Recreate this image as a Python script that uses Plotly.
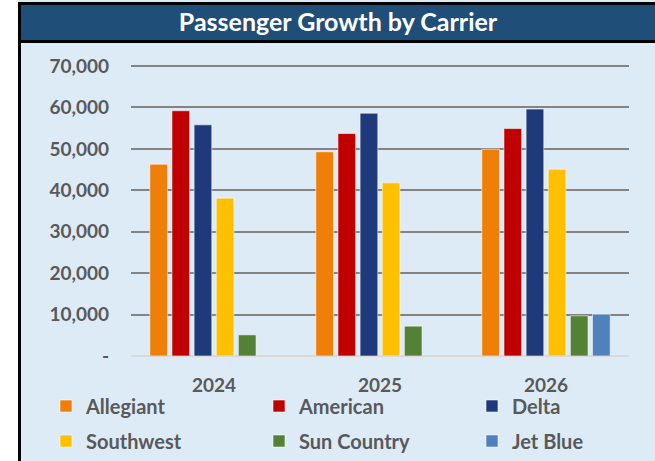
import plotly.graph_objects as go

years = ["2024", "2025", "2026"]
carriers = ["Allegiant", "American", "Delta", "Southwest", "Sun Country", "Jet Blue"]
allegiant = [46300, 49300, 49900]
american = [59200, 53700, 54900]
delta = [55800, 58600, 59600]
southwest = [38100, 41800, 45100]
sun_country = [5100, 7200, 9700]
jet_blue = [None, None, 10100]
series = [allegiant, american, delta, southwest, sun_country, jet_blue]
colors = ["#F07F09", "#C00000", "#1F3A7A", "#FFC000", "#538135", "#4F81BD"]
y_tickvals = [0, 10000, 20000, 30000, 40000, 50000, 60000, 70000]
y_ticktext = ["-", "10,000", "20,000", "30,000", "40,000", "50,000", "60,000", "70,000"]

W, H = 655, 461
L, R, T, B = 131, 629, 62, 356
PW, PH = R - L, B - T
Y_TOP_PX = 66  # pixel row of the 70,000 gridline
Y_MAX = 70000 * PH / (B - Y_TOP_PX)

def px(x):
    return (x - L) / PW

def py(y):
    return (B - y) / PH

FONT = "Lato"
GRAY = "#595959"
BG = "#DDEBF7"

# legend slot positions (pixels): 3 columns x 2 rows
leg_cols = [46, 259, 472]
leg_rows = [406, 441]

fig = go.Figure()
legends = {}
for i, (name, vals, col) in enumerate(zip(carriers, series, colors)):
    lid = "legend" if i == 0 else f"legend{i + 1}"
    fig.add_trace(go.Bar(
        x=years, y=vals, name=name, showlegend=True,
        marker=dict(color=col, line=dict(color="rgba(255,255,255,0.55)", width=1)),
        legend=lid,
    ))
    legends[lid] = dict(
        orientation="v", xref="container", yref="container",
        x=leg_cols[i % 3] / W, y=1 - leg_rows[i // 3] / H,
        xanchor="left", yanchor="middle",
        bgcolor="rgba(0,0,0,0)", borderwidth=0,
        font=dict(family=FONT, size=20, color=GRAY, weight="bold"),
        itemclick=False, itemdoubleclick=False,
    )

shapes = [
    dict(type="rect", xref="paper", yref="paper", x0=px(-5), x1=px(18), y0=py(470), y1=py(-5),
         fillcolor="white", line=dict(width=0), layer="below"),
    dict(type="rect", xref="paper", yref="paper", x0=px(18), x1=px(21), y0=py(470), y1=py(2),
         fillcolor="black", line=dict(width=0), layer="below"),
    dict(type="rect", xref="paper", yref="paper", x0=px(18), x1=px(660), y0=py(5), y1=py(2),
         fillcolor="black", line=dict(width=0), layer="below"),
    dict(type="rect", xref="paper", yref="paper", x0=px(21), x1=px(660), y0=py(40), y1=py(5),
         fillcolor="#1F4E79", line=dict(width=0), layer="below"),
    dict(type="rect", xref="paper", yref="paper", x0=px(18), x1=px(660), y0=py(43), y1=py(40),
         fillcolor="black", line=dict(width=0), layer="below"),
]

fig.update_layout(
    width=W, height=H, autosize=False, showlegend=True,
    margin=dict(l=L, r=W - R, t=T, b=H - B, autoexpand=False),
    paper_bgcolor=BG, plot_bgcolor=BG,
    barmode="group", bargap=0.2, bargroupgap=0.2,
    title=dict(text="Passenger Growth by Carrier", xref="container", yref="container",
               x=338 / W, y=1 - 22 / H, xanchor="center", yanchor="middle",
               font=dict(family=FONT, size=25, color="white", weight="bold")),
    shapes=shapes,
    xaxis=dict(type="category", showgrid=False, showline=False, zeroline=False,
               ticks="", ticklabelstandoff=16,
               tickfont=dict(family=FONT, size=19, color=GRAY, weight="bold")),
    yaxis=dict(range=[0, Y_MAX], tickvals=y_tickvals, ticktext=y_ticktext,
               showgrid=True, gridcolor="#848484", gridwidth=2,
               zeroline=True, zerolinecolor="#D9D9D9", zerolinewidth=2,
               showline=False, ticks="", ticklabelstandoff=21,
               tickfont=dict(family=FONT, size=19, color=GRAY, weight="bold")),
    **legends,
)

fig.write_html("out.html", config={"displayModeBar": False},
               post_script="document.body.style.margin='0';")
